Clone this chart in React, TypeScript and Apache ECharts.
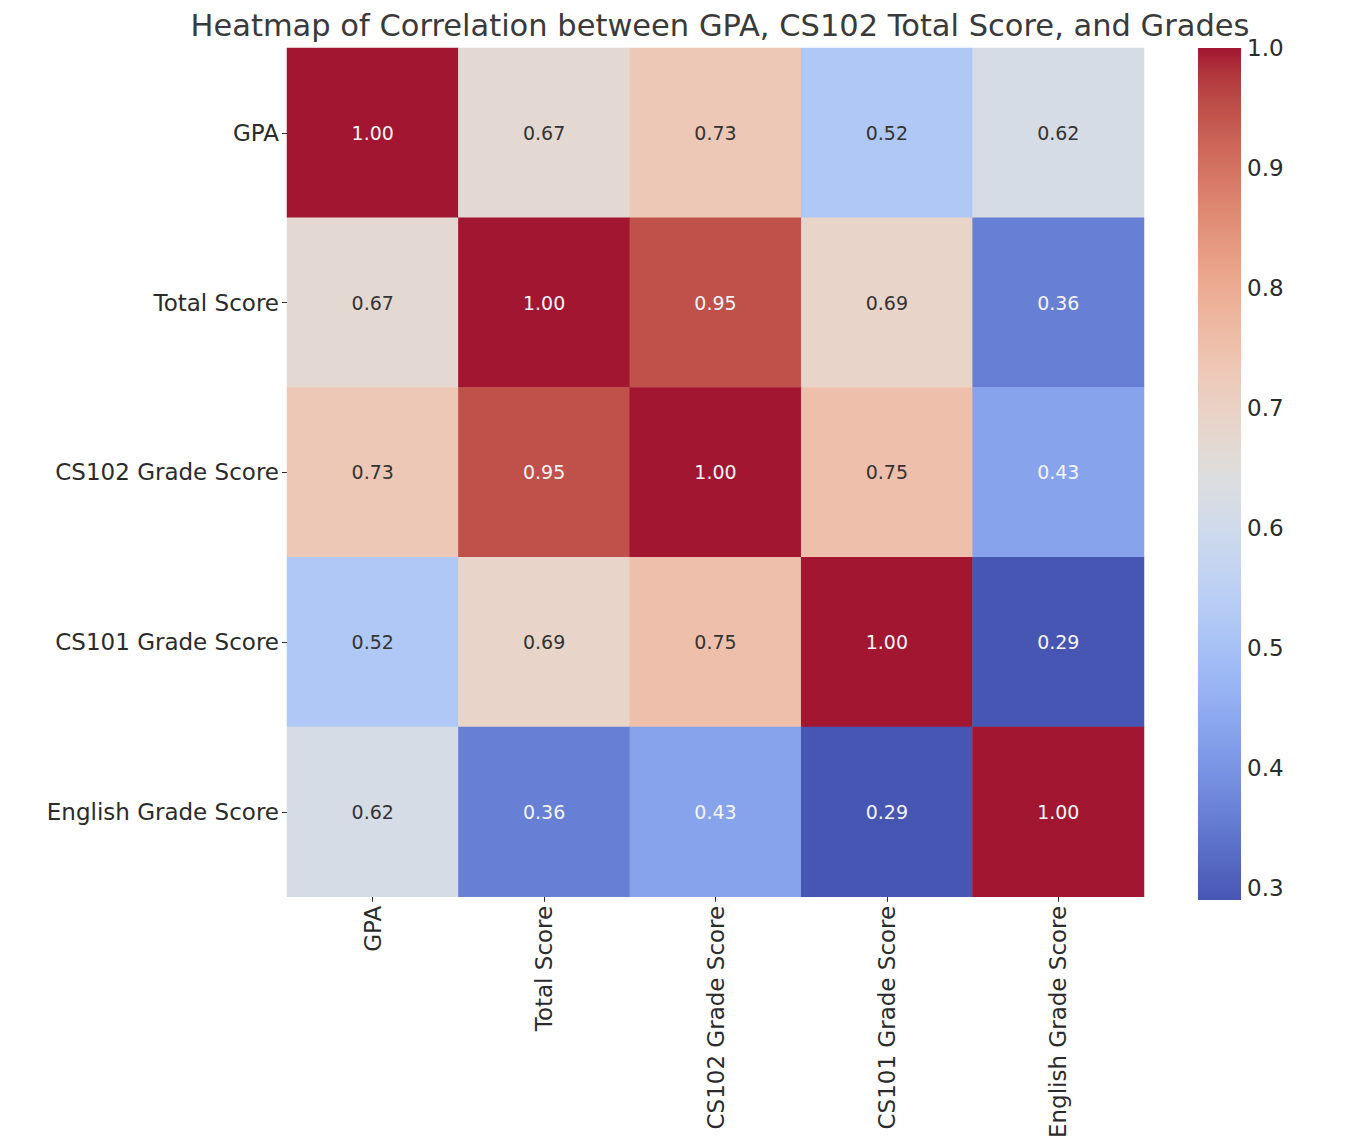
import React, { useEffect, useRef } from "react";
import * as echarts from "echarts";

// Variables compared in the correlation matrix (rows top-to-bottom, columns left-to-right)
const variables = ["GPA", "Total Score", "CS102 Grade Score", "CS101 Grade Score", "English Grade Score"];

// Pairwise correlation coefficients, one array per row
const rowGPA = [1.0, 0.67, 0.73, 0.52, 0.62];
const rowTotal = [0.67, 1.0, 0.95, 0.69, 0.36];
const rowCS102 = [0.73, 0.95, 1.0, 0.75, 0.43];
const rowCS101 = [0.52, 0.69, 0.75, 1.0, 0.29];
const rowEnglish = [0.62, 0.36, 0.43, 0.29, 1.0];
const matrix = [rowGPA, rowTotal, rowCS102, rowCS101, rowEnglish];

// Colour scale range and colour-bar tick values
const scaleMin = 0.29;
const scaleMax = 1.0;
const colorbarTicks = [0.3, 0.4, 0.5, 0.6, 0.7, 0.8, 0.9, 1.0];

// Diverging "coolwarm" colour map, sampled at 33 evenly spaced stops
const coolwarm: number[][] = [
  [59, 76, 192], [68, 90, 204], [77, 104, 215], [87, 117, 225], [98, 130, 234],
  [108, 142, 241], [119, 154, 247], [130, 165, 251], [141, 176, 254], [152, 185, 255],
  [163, 194, 255], [174, 201, 253], [184, 208, 249], [194, 213, 244], [204, 217, 238],
  [213, 219, 230], [221, 221, 221], [229, 216, 209], [236, 211, 197], [241, 204, 185],
  [245, 196, 173], [247, 187, 160], [247, 177, 148], [247, 166, 135], [244, 154, 123],
  [241, 141, 111], [236, 127, 99], [229, 112, 88], [222, 96, 77], [213, 80, 66],
  [203, 62, 56], [192, 40, 47], [180, 4, 38],
];

// Slightly muted rendering of the map: pull each channel toward the colour's lightness
const MUTE = 0.2;
const muted = coolwarm.map((c) => {
  const l = (Math.max(...c) + Math.min(...c)) / 2;
  return c.map((v) => Math.round(v + (l - v) * MUTE));
});

const toCss = (c: number[]) => `rgb(${c[0]},${c[1]},${c[2]})`;

function sampleMap(v: number): number[] {
  const t = Math.min(1, Math.max(0, (v - scaleMin) / (scaleMax - scaleMin)));
  const pos = t * (coolwarm.length - 1);
  const i = Math.min(coolwarm.length - 2, Math.floor(pos));
  const f = pos - i;
  return [0, 1, 2].map((k) => coolwarm[i][k] + (coolwarm[i + 1][k] - coolwarm[i][k]) * f);
}

// Pick dark or white annotation text based on the cell's relative luminance
function textColorFor(v: number): string {
  const rgb = sampleMap(v).map((c) => {
    const s = c / 255;
    return s <= 0.03928 ? s / 12.92 : Math.pow((s + 0.055) / 1.055, 2.4);
  });
  const lum = 0.2126 * rgb[0] + 0.7152 * rgb[1] + 0.0722 * rgb[2];
  return lum > 0.408 ? "#333333" : "#f4f4f8";
}

const FONT = "DejaVu Sans";
const TEXT = "#2b2b2b";

export default function App() {
  const ref = useRef<HTMLDivElement>(null);

  useEffect(() => {
    if (!ref.current) return;
    const chart = echarts.init(ref.current, undefined, { renderer: "svg" });

    const cells: any[] = [];
    matrix.forEach((row, r) => {
      row.forEach((v, c) => {
        cells.push({
          value: [c, r, v],
          label: { color: textColorFor(v) },
        });
      });
    });

    const gradientStops = muted.map((_c, i) => ({
      offset: i / (muted.length - 1),
      color: toCss(muted[muted.length - 1 - i]),
    }));

    chart.setOption({
      animation: false,
      backgroundColor: "#ffffff",
      textStyle: { fontFamily: FONT },
      title: {
        text: "Heatmap of Correlation between GPA, CS102 Total Score, and Grades",
        left: 715,
        textAlign: "center",
        top: 5,
        textStyle: { fontFamily: FONT, fontSize: 30.5, fontWeight: "normal", color: "#3a3a3a" },
      },
      grid: [
        { left: 287, top: 48, width: 857, height: 852 },
        { left: 1198, top: 48, width: 43, height: 852 },
      ],
      xAxis: [
        {
          type: "category",
          gridIndex: 0,
          data: variables,
          position: "bottom",
          axisLine: { show: false },
          axisTick: { show: true, alignWithLabel: true, length: 5, lineStyle: { color: TEXT } },
          splitLine: { show: false },
          axisLabel: {
            rotate: 90,
            fontSize: 23,
            color: TEXT,
            fontFamily: FONT,
            margin: 9,
            interval: 0,
          },
        },
        {
          type: "value",
          gridIndex: 1,
          min: 0,
          max: 1,
          show: false,
        },
      ],
      yAxis: [
        {
          type: "category",
          gridIndex: 0,
          data: variables,
          inverse: true,
          axisLine: { show: false },
          axisTick: { show: true, alignWithLabel: true, length: 5, lineStyle: { color: TEXT } },
          splitLine: { show: false },
          axisLabel: { fontSize: 23, color: TEXT, fontFamily: FONT, margin: 8, interval: 0 },
        },
        {
          type: "value",
          gridIndex: 1,
          position: "right",
          min: scaleMin,
          max: scaleMax,
          axisLine: { show: false },
          splitLine: { show: false },
          axisTick: {
            show: true,
            length: 5,
            customValues: colorbarTicks,
            lineStyle: { color: TEXT },
          },
          axisLabel: {
            customValues: colorbarTicks,
            fontSize: 23,
            color: TEXT,
            fontFamily: FONT,
            margin: 6,
            formatter: (v: number) => v.toFixed(1),
          },
        },
      ],
      visualMap: {
        show: false,
        type: "continuous",
        min: scaleMin,
        max: scaleMax,
        dimension: 2,
        seriesIndex: 0,
        inRange: { color: muted.map(toCss) },
      },
      series: [
        {
          type: "heatmap",
          xAxisIndex: 0,
          yAxisIndex: 0,
          data: cells,
          itemStyle: { borderWidth: 0 },
          emphasis: { disabled: true },
          label: {
            show: true,
            fontSize: 19,
            fontFamily: FONT,
            formatter: (p: any) => Number(p.value[2]).toFixed(2),
          },
        },
        {
          // Colour bar drawn over the full scale range
          type: "custom",
          xAxisIndex: 1,
          yAxisIndex: 1,
          data: [[0, 1, scaleMin, scaleMax]],
          renderItem: (_params: any, api: any) => {
            const p0 = api.coord([api.value(0), api.value(3)]);
            const p1 = api.coord([api.value(1), api.value(2)]);
            return {
              type: "rect",
              shape: { x: p0[0], y: p0[1], width: p1[0] - p0[0], height: p1[1] - p0[1] },
              style: { fill: new echarts.graphic.LinearGradient(0, 0, 0, 1, gradientStops) },
            };
          },
          silent: true,
        },
      ],
    });

    return () => chart.dispose();
  }, []);

  return (
    <div
      ref={ref}
      style={{ position: "fixed", left: 0, top: 0, width: 1353, height: 1141, background: "#fff" }}
    />
  );
}
